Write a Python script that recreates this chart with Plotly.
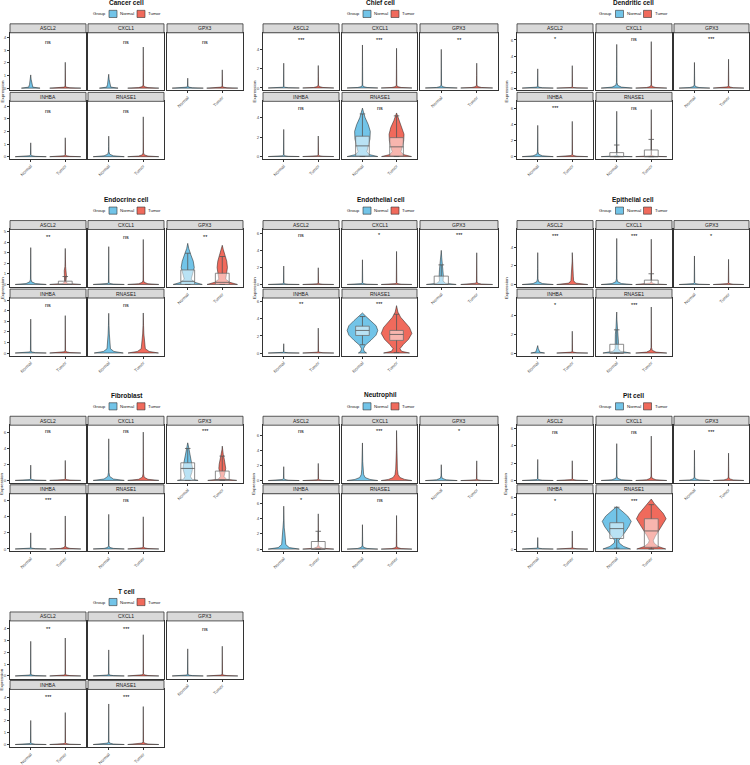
import plotly.graph_objects as go

# ---------------- data ----------------
CELL_TYPES = ["Cancer cell", "Chief cell", "Dendritic cell", "Endocrine cell", "Endothelial cell",
              "Epithelial cell", "Fibroblast", "Neutrophil", "Pit cell", "T cell"]
GENES = ["ASCL2", "CXCL1", "GPX3", "INHBA", "RNASE1"]
GROUPS = ["Normal", "Tumor"]

SIGNIF = [
    ["ns", "ns", "ns", "ns", "ns"],
    ["***", "***", "**", "ns", "ns"],
    ["*", "ns", "***", "***", "ns"],
    ["**", "ns", "**", "ns", "ns"],
    ["ns", "*", "***", "**", "***"],
    ["***", "***", "*", "*", "***"],
    ["ns", "ns", "***", "***", "ns"],
    ["ns", "***", "*", "*", "ns"],
    ["ns", "ns", "***", "*", "***"],
    ["**", "***", "ns", "***", "***"],
]
SIGNIF_Y = [3.66, 5.0, 6.1, 4.5, 5.75, 5.2, 6.1, 6.5, 5.6, 4.0]

# maximum expression per violin (Normal / Tumor), genes in GENES order
MAX_NORMAL = [
    [1.05, 1.10, 0.79, 1.10, 1.63],
    [2.56, 4.44, 3.99, 2.80, 5.00],
    [2.40, 5.45, 3.20, 3.90, 5.66],
    [3.48, 3.57, 3.88, 3.20, 3.75],
    [2.16, 2.90, 4.00, 1.09, 4.70],
    [3.42, 4.94, 3.06, 0.80, 4.40],
    [1.90, 5.17, 4.67, 2.00, 4.30],
    [1.83, 4.96, 2.09, 5.66, 3.22],
    [2.43, 4.26, 3.50, 1.33, 4.90],
    [2.94, 2.21, 2.30, 2.04, 3.44],
]
MAX_TUMOR = [
    [2.05, 3.26, 1.45, 1.50, 3.16],
    [2.32, 4.10, 2.56, 2.12, 4.50],
    [2.80, 5.80, 3.60, 4.40, 5.87],
    [3.40, 4.25, 3.70, 3.53, 3.78],
    [1.96, 3.88, 3.72, 2.92, 5.56],
    [3.42, 4.86, 2.70, 2.34, 4.94],
    [2.48, 6.00, 4.26, 4.10, 4.00],
    [2.26, 6.60, 2.60, 4.65, 4.43],
    [2.28, 5.13, 3.16, 2.09, 5.78],
    [3.22, 3.50, 2.52, 2.71, 3.22],
]
# height of the dense low-expression bulge at the violin base
BULGE_NORMAL = [
    [0.08, 0.08, 0.08, 0.08, 0.20],
    [0.08, 0.15, 0.15, 0.08, 0.08],
    [0.12, 0.35, 0.20, 0.30, 0.10],
    [0.25, 0.10, 0.10, 0.10, 0.10],
    [0.08, 0.10, 0.10, 0.08, 0.10],
    [0.30, 0.30, 0.10, 0.10, 0.10],
    [0.10, 0.50, 0.10, 0.10, 0.20],
    [0.15, 0.60, 0.30, 0.30, 0.25],
    [0.10, 0.25, 0.20, 0.10, 0.10],
    [0.08, 0.08, 0.08, 0.08, 0.12],
]
BULGE_TUMOR = [
    [0.08, 0.12, 0.08, 0.08, 0.15],
    [0.15, 0.15, 0.15, 0.08, 0.08],
    [0.08, 0.20, 0.15, 0.15, 0.10],
    [0.10, 0.20, 0.10, 0.12, 0.10],
    [0.08, 0.10, 0.15, 0.10, 0.10],
    [0.30, 0.15, 0.10, 0.10, 0.30],
    [0.10, 0.40, 0.10, 0.20, 0.15],
    [0.10, 0.60, 0.10, 0.30, 0.20],
    [0.10, 0.25, 0.20, 0.10, 0.10],
    [0.08, 0.10, 0.08, 0.08, 0.12],
]

# violins with a visible density shape: (cell, gene, group, expression levels, half widths)
PROFILES = [
    ("Cancer cell", "ASCL2", "Normal", [0, 0.08, 0.3, 0.7, 1.05], [0.27, 0.06, 0.035, 0.012, 0]),
    ("Cancer cell", "CXCL1", "Normal", [0, 0.08, 0.3, 0.7, 1.1], [0.27, 0.06, 0.035, 0.012, 0]),
    ("Chief cell", "RNASE1", "Normal", [0, 0.2, 0.5, 1.0, 1.8, 2.6, 3.3, 4.0, 4.6, 5.0],
     [0.45, 0.2, 0.13, 0.17, 0.22, 0.23, 0.17, 0.08, 0.03, 0]),
    ("Chief cell", "RNASE1", "Tumor", [0, 0.2, 0.5, 1.0, 1.6, 2.3, 3.0, 3.7, 4.2, 4.5],
     [0.44, 0.2, 0.13, 0.16, 0.21, 0.22, 0.17, 0.08, 0.03, 0]),
    ("Endocrine cell", "ASCL2", "Tumor", [0, 0.1, 0.3, 0.8, 1.3, 1.7, 2.4, 3.4],
     [0.45, 0.06, 0.02, 0.035, 0.03, 0.01, 0.005, 0]),
    ("Endocrine cell", "GPX3", "Normal", [0, 0.2, 0.5, 1.0, 1.6, 2.2, 2.8, 3.4, 3.88],
     [0.42, 0.2, 0.1, 0.15, 0.19, 0.16, 0.09, 0.03, 0]),
    ("Endocrine cell", "GPX3", "Tumor", [0, 0.2, 0.5, 1.0, 1.6, 2.2, 2.8, 3.3, 3.7],
     [0.44, 0.22, 0.1, 0.12, 0.15, 0.13, 0.07, 0.03, 0]),
    ("Endocrine cell", "RNASE1", "Normal", [0, 0.15, 0.4, 1.0, 1.8, 2.6, 3.75],
     [0.42, 0.15, 0.05, 0.03, 0.018, 0.008, 0]),
    ("Endocrine cell", "RNASE1", "Tumor", [0, 0.15, 0.4, 1.0, 1.8, 2.6, 3.78],
     [0.44, 0.17, 0.06, 0.035, 0.018, 0.008, 0]),
    ("Endothelial cell", "GPX3", "Normal", [0, 0.15, 0.4, 1.0, 1.8, 2.5, 3.2, 4.0],
     [0.42, 0.12, 0.05, 0.06, 0.05, 0.03, 0.012, 0]),
    ("Endothelial cell", "RNASE1", "Normal", [0, 0.2, 0.5, 0.9, 1.5, 2.1, 2.65, 3.2, 3.8, 4.3, 4.7],
     [0.12, 0.05, 0.03, 0.08, 0.25, 0.4, 0.45, 0.4, 0.25, 0.1, 0]),
    ("Endothelial cell", "RNASE1", "Tumor", [0, 0.2, 0.5, 1.0, 1.6, 2.3, 3.0, 3.6, 4.2, 4.8, 5.56],
     [0.38, 0.15, 0.1, 0.2, 0.35, 0.45, 0.38, 0.25, 0.12, 0.04, 0]),
    ("Epithelial cell", "ASCL2", "Tumor", [0, 0.15, 0.4, 0.9, 1.4, 1.8, 2.5, 3.42],
     [0.45, 0.1, 0.04, 0.03, 0.02, 0.008, 0.004, 0]),
    ("Epithelial cell", "INHBA", "Normal", [0, 0.1, 0.3, 0.5, 0.8], [0.2, 0.06, 0.04, 0.015, 0]),
    ("Epithelial cell", "RNASE1", "Normal", [0, 0.2, 0.5, 1.2, 2.0, 2.8, 3.6, 4.4],
     [0.4, 0.1, 0.045, 0.05, 0.04, 0.02, 0.006, 0]),
    ("Fibroblast", "GPX3", "Normal", [0, 0.15, 0.5, 1.0, 1.5, 2.0, 2.6, 3.2, 3.8, 4.3, 4.67],
     [0.3, 0.12, 0.08, 0.12, 0.14, 0.12, 0.09, 0.07, 0.04, 0.02, 0]),
    ("Fibroblast", "GPX3", "Tumor", [0, 0.15, 0.5, 1.0, 1.5, 2.0, 2.6, 3.2, 3.8, 4.26],
     [0.42, 0.12, 0.05, 0.08, 0.1, 0.09, 0.06, 0.03, 0.01, 0]),
    ("Neutrophil", "CXCL1", "Normal", [0, 0.15, 0.4, 0.8, 1.5, 2.5, 4.96],
     [0.45, 0.22, 0.08, 0.035, 0.02, 0.008, 0]),
    ("Neutrophil", "CXCL1", "Tumor", [0, 0.15, 0.4, 0.8, 1.5, 2.5, 4.0, 6.6],
     [0.45, 0.24, 0.1, 0.045, 0.025, 0.01, 0.004, 0]),
    ("Neutrophil", "INHBA", "Normal", [0, 0.2, 0.6, 1.2, 2.0, 2.8, 3.8, 5.66],
     [0.45, 0.16, 0.06, 0.05, 0.035, 0.015, 0.005, 0]),
    ("Pit cell", "RNASE1", "Normal", [0, 0.3, 0.7, 1.0, 1.5, 2.0, 2.6, 3.2, 3.8, 4.4, 4.9],
     [0.4, 0.2, 0.07, 0.06, 0.15, 0.25, 0.35, 0.42, 0.32, 0.15, 0]),
    ("Pit cell", "RNASE1", "Tumor", [0, 0.3, 0.7, 1.0, 1.5, 2.2, 2.9, 3.5, 4.1, 4.7, 5.3, 5.78],
     [0.42, 0.2, 0.08, 0.06, 0.12, 0.22, 0.33, 0.43, 0.35, 0.22, 0.08, 0]),
]

# box statistics: (cell, gene, group, lower whisker, q1, median, q3, upper whisker)
BOXES = [
    ("Chief cell", "RNASE1", "Normal", 0.0, 0.05, 1.1, 2.1, 4.4),
    ("Chief cell", "RNASE1", "Tumor", 0.0, 0.05, 1.0, 1.95, 4.2),
    ("Dendritic cell", "RNASE1", "Normal", 0.0, 0.0, 0.0, 0.5, 1.45),
    ("Dendritic cell", "RNASE1", "Tumor", 0.0, 0.0, 0.0, 0.83, 2.15),
    ("Endocrine cell", "ASCL2", "Tumor", 0.0, 0.0, 0.0, 0.31, 0.75),
    ("Endocrine cell", "GPX3", "Normal", 0.0, 0.0, 0.3, 1.37, 2.95),
    ("Endocrine cell", "GPX3", "Tumor", 0.0, 0.0, 0.2, 1.06, 2.64),
    ("Endothelial cell", "GPX3", "Normal", 0.0, 0.0, 0.0, 0.98, 2.3),
    ("Endothelial cell", "RNASE1", "Normal", 0.97, 2.06, 2.65, 3.15, 4.28),
    ("Endothelial cell", "RNASE1", "Tumor", 0.05, 1.48, 2.18, 2.65, 4.55),
    ("Epithelial cell", "CXCL1", "Tumor", 0.0, 0.0, 0.0, 0.47, 1.15),
    ("Epithelial cell", "RNASE1", "Normal", 0.0, 0.0, 0.0, 0.94, 2.49),
    ("Fibroblast", "GPX3", "Normal", 0.0, 0.0, 1.49, 2.19, 3.97),
    ("Fibroblast", "GPX3", "Tumor", 0.0, 0.0, 0.1, 1.16, 3.02),
    ("Neutrophil", "INHBA", "Tumor", 0.0, 0.0, 0.0, 1.0, 2.35),
    ("Pit cell", "RNASE1", "Normal", 0.1, 1.22, 2.36, 3.04, 4.83),
    ("Pit cell", "RNASE1", "Tumor", 0.0, 0.2, 2.09, 3.5, 5.13),
]

# y axis (shared within each cell type panel)
Y_LOW = [-0.18, -0.25, -0.29, -0.25, -0.31, -0.28, -0.3, -0.3, -0.27, -0.22]
Y_HIGH = [4.39, 5.7, 6.9, 5.19, 6.45, 5.9, 6.86, 7.3, 6.39, 4.67]
Y_TICK_STEP = [1, 2, 2, 1, 2, 2, 2, 2, 2, 1]

# ---------------- style / layout ----------------
W, H = 750, 765
FONT = "Liberation Sans, Arial, sans-serif"
FILL = {"Normal": "#72C4E8", "Tumor": "#F06A5C"}
COL_FACETS = [[(10, 86), (88, 164), (167, 243)],
              [(263, 339), (342, 417), (420, 498)],
              [(517, 593), (596, 672), (674, 749)]]
COL_YLABEL_X = [2, 254, 506]
ROW_STRIP_TOP = [24, 222, 419, 616]
STRIP_H, PLOT_H, ROW_STEP = 9, 58, 69
BOX_HALF, CAP_HALF = 0.2, 0.08


def px(x):
    return x / W


def py(y):
    return 1 - y / H


prof_lookup = {(c, g, grp): (ys, ws) for c, g, grp, ys, ws in PROFILES}
box_lookup = {(c, g, grp): v for c, g, grp, *v in BOXES}


def spike_profile(ymax, h, w0):
    ys = [0, 0.35 * h, h, 2 * h, max(2.5 * h, 0.5 * ymax), ymax]
    ws = [w0, 0.3 * w0, 0.06 * w0, 0.008, 0.004, 0]
    pts = sorted(zip(ys, ws), key=lambda t: t[0])
    return [q[0] for q in pts], [q[1] for q in pts]


fig = go.Figure()
layout = {}
shapes = []
annotations = []

for p, cell in enumerate(CELL_TYPES):
    prow, pcol = divmod(p, 3)
    S = ROW_STRIP_TOP[prow]
    facets = COL_FACETS[pcol]
    cx = (facets[0][0] + facets[2][1]) / 2

    # title
    annotations.append(dict(text="<b>%s</b>" % cell, x=px(cx), y=py(S - 21), xref="paper", yref="paper",
                            showarrow=False, font=dict(size=6.5, color="#111", family=FONT),
                            xanchor="center", yanchor="middle"))
    # legend
    ly = S - 10
    annotations.append(dict(text="Group", x=px(cx - 19), y=py(ly), xref="paper", yref="paper",
                            showarrow=False, font=dict(size=4.4, color="#222", family=FONT),
                            xanchor="right", yanchor="middle"))
    for k, (grp, sx, tx) in enumerate([("Normal", cx - 17.5, cx - 8.5), ("Tumor", cx + 10.5, cx + 19.5)]):
        shapes.append(dict(type="rect", xref="paper", yref="paper", x0=px(sx), x1=px(sx + 8),
                           y0=py(ly + 3.6), y1=py(ly - 3.6), fillcolor=FILL[grp],
                           line=dict(color="#333", width=0.6)))
        annotations.append(dict(text=grp, x=px(tx), y=py(ly), xref="paper", yref="paper",
                                showarrow=False, font=dict(size=4.4, color="#222", family=FONT),
                                xanchor="left", yanchor="middle"))
    # y label
    annotations.append(dict(text="Expression", x=px(COL_YLABEL_X[pcol]), y=py(S + 68), xref="paper",
                            yref="paper", showarrow=False, textangle=-90,
                            font=dict(size=4.4, color="#222", family=FONT),
                            xanchor="center", yanchor="middle"))

    step = Y_TICK_STEP[p]
    ticks = [v for v in range(0, 9, step) if v <= Y_HIGH[p]]

    for g, gene in enumerate(GENES):
        idx = p * 5 + g + 1
        fr, fc = divmod(g, 3)
        x0, x1 = facets[fc]
        st = S + fr * ROW_STEP
        pt0, pt1 = st + STRIP_H, st + STRIP_H + PLOT_H
        xr = "x" if idx == 1 else "x%d" % idx
        yr = "y" if idx == 1 else "y%d" % idx
        show_x = g >= 2
        show_y = fc == 0

        layout["xaxis" if idx == 1 else "xaxis%d" % idx] = dict(
            domain=[px(x0), px(x1)], anchor=yr, range=[0.4, 2.6],
            showline=True, mirror=True, linecolor="#333", linewidth=1,
            showgrid=False, zeroline=False,
            tickvals=[1, 2], ticktext=GROUPS, tickangle=-45,
            ticks="outside" if show_x else "", ticklen=2, tickwidth=0.6, tickcolor="#333",
            showticklabels=show_x, tickfont=dict(size=4.4, color="#4D4D4D", family=FONT))
        layout["yaxis" if idx == 1 else "yaxis%d" % idx] = dict(
            domain=[py(pt1), py(pt0)], anchor=xr, range=[Y_LOW[p], Y_HIGH[p]],
            showline=True, mirror=True, linecolor="#333", linewidth=1,
            showgrid=False, zeroline=False, tickvals=ticks,
            ticks="outside" if show_y else "", ticklen=2, tickwidth=0.6, tickcolor="#333",
            showticklabels=show_y, tickfont=dict(size=4.4, color="#4D4D4D", family=FONT))

        # strip
        shapes.append(dict(type="rect", xref="paper", yref="paper", x0=px(x0), x1=px(x1),
                           y0=py(st + STRIP_H), y1=py(st), fillcolor="#D9D9D9",
                           line=dict(color="#333", width=0.8)))
        annotations.append(dict(text=gene, x=px((x0 + x1) / 2), y=py(st + STRIP_H / 2), xref="paper",
                                yref="paper", showarrow=False,
                                font=dict(size=5, color="#1A1A1A", family=FONT),
                                xanchor="center", yanchor="middle"))

        # violins
        for k, grp in enumerate(GROUPS):
            c = k + 1
            key = (cell, gene, grp)
            if key in prof_lookup:
                ys, ws = prof_lookup[key]
            else:
                ymax = (MAX_NORMAL if grp == "Normal" else MAX_TUMOR)[p][g]
                h = (BULGE_NORMAL if grp == "Normal" else BULGE_TUMOR)[p][g]
                ys, ws = spike_profile(ymax, h, 0.45)
            xs = [c - w for w in ws] + [c + w for w in reversed(ws)]
            yv = list(ys) + list(reversed(ys))
            xs.append(xs[0])
            yv.append(yv[0])
            fig.add_trace(go.Scatter(x=xs, y=yv, mode="lines", fill="toself", fillcolor=FILL[grp],
                                     line=dict(color="#1a1a1a", width=0.5), hoverinfo="skip",
                                     showlegend=False, xaxis=xr, yaxis=yr))
        # boxplots (drawn as scatter so they sit on top of the violins)
        for k, grp in enumerate(GROUPS):
            c = k + 1
            key = (cell, gene, grp)
            if key not in box_lookup:
                continue
            lo, q1, med, q3, up = box_lookup[key]
            fig.add_trace(go.Scatter(
                x=[c - BOX_HALF, c + BOX_HALF, c + BOX_HALF, c - BOX_HALF, c - BOX_HALF],
                y=[q1, q1, q3, q3, q1], mode="lines", fill="toself",
                fillcolor="rgba(255,255,255,0.5)", line=dict(color="#707070", width=0.8),
                hoverinfo="skip", showlegend=False, xaxis=xr, yaxis=yr))
            fig.add_trace(go.Scatter(
                x=[c, c, None, c, c, None, c - CAP_HALF, c + CAP_HALF, None,
                   c - CAP_HALF, c + CAP_HALF, None, c - BOX_HALF, c + BOX_HALF],
                y=[q3, up, None, q1, lo, None, up, up, None, lo, lo, None, med, med],
                mode="lines", line=dict(color="#555555", width=0.8),
                hoverinfo="skip", showlegend=False, xaxis=xr, yaxis=yr))
        # significance
        annotations.append(dict(text=SIGNIF[p][g], x=1.5, y=SIGNIF_Y[p], xref=xr, yref=yr,
                                showarrow=False, font=dict(size=5.5, color="#000", family=FONT),
                                xanchor="center", yanchor="middle"))

fig.update_layout(**layout)
fig.update_layout(width=W, height=H, autosize=False, margin=dict(l=0, r=0, t=0, b=0, pad=0),
                  paper_bgcolor="white", plot_bgcolor="white", showlegend=False,
                  shapes=shapes, annotations=annotations)
fig.write_html("out.html")
